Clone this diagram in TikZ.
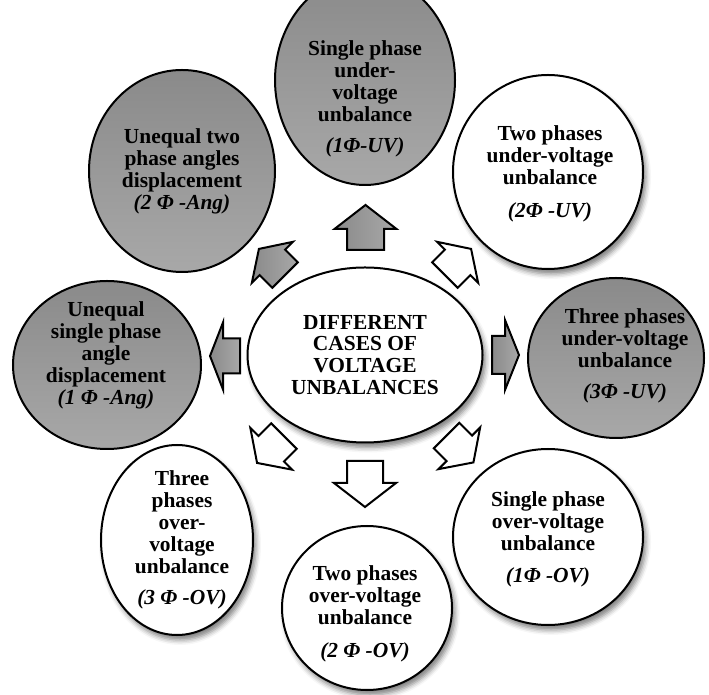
\documentclass[tikz,border=0pt]{standalone}
\usepackage{fontspec}
\setmainfont{Liberation Serif}
\usetikzlibrary{shapes.geometric,shadows.blur}
\definecolor{gtop}{RGB}{138,138,138}
\definecolor{gbot}{RGB}{168,168,168}
\newcommand\blockarr[8]{%
  \draw[#8, shift={({#1},{#2})}, rotate=#3]
    ({-#4/2},{-#6}) -- ({#4/2-#5},{-#6}) -- ({#4/2-#5},{-#7}) -- ({#4/2},0)
    -- ({#4/2-#5},{#7}) -- ({#4/2-#5},{#6}) -- ({-#4/2},{#6}) -- cycle;}
\begin{document}
\begin{tikzpicture}[x=1bp,y=1bp,
  bub/.style={ellipse, draw=black, line width=2bp, inner sep=0pt},
  grayfill/.style={top color=gtop, bottom color=gbot},
  whitefill/.style={fill=white, blur shadow={shadow xshift=3bp, shadow yshift=-5bp, shadow blur radius=5bp, shadow opacity=50}},
  lbl/.style={align=center, font=\fontsize{21.5}{22}\selectfont\bfseries, inner sep=0pt},
  garr/.style={draw=black, line width=2bp, line join=miter, left color=gtop, right color=gbot},
  warr/.style={draw=black, line width=2bp, line join=miter, fill=white}]
\useasboundingbox (0,0) rectangle (709,695);
% bubbles
\node[bub, grayfill, minimum width=180bp, minimum height=210bp] (e1) at (365,615) {};
\node[bub, grayfill, minimum width=186bp, minimum height=202bp] (e8) at (182,524) {};
\node[bub, grayfill, minimum width=188bp, minimum height=168bp] (e7) at (107,330) {};
\node[bub, grayfill, minimum width=176bp, minimum height=160bp] (e3) at (616,337) {};
\node[bub, whitefill, minimum width=190bp, minimum height=194bp] (e2) at (548,523) {};
\node[bub, whitefill, minimum width=190bp, minimum height=176bp] (e4) at (548,158) {};
\node[bub, whitefill, minimum width=152bp, minimum height=190bp] (e6) at (177,155) {};
\node[bub, whitefill, minimum width=170bp, minimum height=164bp] (e5) at (367,87) {};
\node[bub, whitefill, minimum width=235bp, minimum height=175bp] (cen) at (365,340) {};
% arrows
\blockarr{365.5}{467.5}{90}{45}{24}{18.5}{31}{garr}
\blockarr{365}{211}{-90}{46}{24}{18}{31}{warr}
\blockarr{505.5}{340}{0}{27}{14}{19}{35}{garr}
\blockarr{225}{339}{180}{30}{13}{17.5}{33.5}{garr}
\blockarr{272}{433}{135}{37}{19}{18}{29}{garr}
\blockarr{458}{433}{45}{37}{19}{18}{29}{warr}
\blockarr{270.5}{245.5}{225}{38}{20}{18}{29.5}{warr}
\blockarr{460}{246}{-45}{38}{20}{18}{29.5}{warr}
% texts
\node[lbl] (tc) at (365,340) {DIFFERENT\\CASES OF\\VOLTAGE\\UNBALANCES};
\node[lbl] (t1) at (365,596) {Single phase\\under-\\voltage\\unbalance\\[9bp]\itshape (1Φ-UV)};
\node[lbl] (t2) at (550,521.5) {Two phases\\under-voltage\\unbalance\\[11bp]\itshape (2Φ -UV)};
\node[lbl] (t3) at (625,339.5) {Three phases\\under-voltage\\unbalance\\[9bp]\itshape (3Φ -UV)};
\node[lbl] (t4) at (548,155.5) {Single phase\\over-voltage\\unbalance\\[10bp]\itshape (1Φ -OV)};
\node[lbl] (t5) at (365,81.5) {Two phases\\over-voltage\\unbalance\\[11bp]\itshape (2 Φ -OV)};
\node[lbl] (t6) at (182,155) {Three\\phases\\over-\\voltage\\unbalance\\[10bp]\itshape (3 Φ -OV)};
\node[lbl] (t7) at (106,339.5) {Unequal\\single phase\\angle\\displacement\\\itshape (1 Φ -Ang)};
\node[lbl] (t8) at (182,523.5) {Unequal two\\phase angles\\displacement\\\itshape (2 Φ -Ang)};
\end{tikzpicture}
\end{document}
